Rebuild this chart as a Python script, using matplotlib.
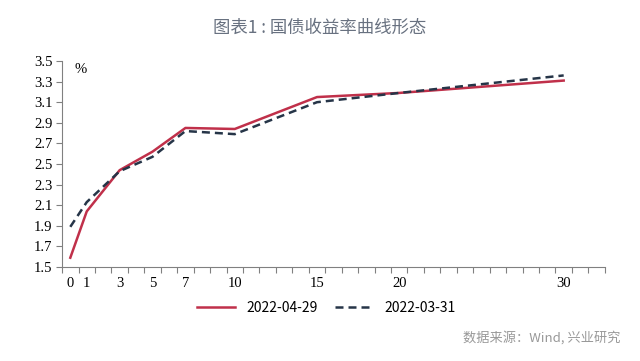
import matplotlib
matplotlib.use('Agg')
import matplotlib.pyplot as plt

plt.rcParams['font.family'] = ['Noto Sans CJK SC', 'DejaVu Sans']

# 期限（年）与收益率（%）
tenors = [0, 1, 3, 5, 7, 10, 15, 20, 30]
y_0429 = [1.59, 2.04, 2.44, 2.62, 2.85, 2.84, 3.15, 3.19, 3.31]
y_0331 = [1.89, 2.13, 2.43, 2.57, 2.82, 2.79, 3.10, 3.19, 3.36]
labels = ['2022-04-29', '2022-03-31']
yticks = [1.5, 1.7, 1.9, 2.1, 2.3, 2.5, 2.7, 2.9, 3.1, 3.3, 3.5]

fig = plt.figure(figsize=(6.4, 3.61), dpi=100)
ax = fig.add_axes([0.097, 0.2604, 0.848, 0.5706])

ax.plot(tenors, y_0429, color='#C0304A', lw=1.8, label=labels[0])
ax.plot(tenors, y_0331, color='#263548', lw=1.8, ls=(0, (3.2, 2)), label=labels[1])

ax.set_xlim(-0.5, 32.5)
ax.set_ylim(1.5, 3.5)
ax.set_yticks(yticks)
ax.set_yticklabels(['%.1f' % v for v in yticks], family='Liberation Serif', fontsize=10.5)
ax.set_xticks(tenors)
ax.set_xticklabels([str(t) for t in tenors], family='Liberation Serif', fontsize=10.5)
ax.set_xticks([i + 0.5 for i in range(-1, 33)], minor=True)
ax.tick_params(axis='x', which='major', length=0, pad=7)
ax.tick_params(axis='x', which='minor', length=4, width=0.8, color='#808080')
ax.tick_params(axis='y', length=4, width=0.8, color='#808080', pad=3)

for s in ['top', 'right']:
    ax.spines[s].set_visible(False)
for s in ['left', 'bottom']:
    ax.spines[s].set_color('#808080')
    ax.spines[s].set_linewidth(0.8)

ax.text(0.6, 3.42, '%', family='Liberation Serif', fontsize=10.5, ha='center', va='center')

ax.legend(loc='center', bbox_to_anchor=(0.487, -0.2), ncol=2, frameon=False,
          fontsize=10, handlelength=2.7, columnspacing=1.3, handletextpad=0.8)

fig.text(0.5, 0.922, '图表1 : 国债收益率曲线形态', ha='center', va='center',
         fontsize=12.5, color='#687180')
fig.text(0.97, 0.064, '数据来源：Wind, 兴业研究', ha='right', va='center',
         fontsize=9.5, color='#999999')

fig.savefig('out.png', dpi=100, facecolor='white')
